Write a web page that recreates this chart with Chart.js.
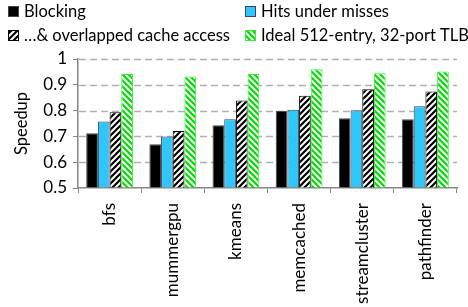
<!DOCTYPE html>
<html>
<head>
<meta charset="utf-8">
<script src="https://cdn.jsdelivr.net/npm/chart.js@4/dist/chart.umd.min.js"></script>
<style>
html,body{margin:0;padding:0;background:#fff;}
#wrap{position:relative;width:468px;height:307px;}
</style>
</head>
<body>
<div id="wrap"><canvas id="c" width="468" height="307"></canvas></div>
<script>
const categories = ["bfs","mummergpu","kmeans","memcached","streamcluster","pathfinder"];
const seriesNames = ["Blocking","Hits under misses","\u2026& overlapped cache access","Ideal 512-entry, 32-port TLB"];
const blocking = [0.712,0.670,0.743,0.799,0.770,0.766];
const hitsUnderMisses = [0.758,0.700,0.766,0.803,0.801,0.817];
const overlapped = [0.794,0.721,0.839,0.858,0.883,0.874];
const idealTLB = [0.942,0.932,0.942,0.960,0.945,0.952];
const yTicks = [0.5,0.6,0.7,0.8,0.9,1];

const FONT = "Lato";

function hatch(color, dir){
  const s = 6;
  const c = document.createElement('canvas');
  c.width = s; c.height = s;
  const g = c.getContext('2d');
  g.fillStyle = '#ffffff';
  g.fillRect(0,0,s,s);
  g.strokeStyle = color;
  g.lineWidth = 2.2;
  g.beginPath();
  if(dir === '/'){
    g.moveTo(-1, s+1); g.lineTo(s+1, -1);
    g.moveTo(-1, 1); g.lineTo(1, -1);
    g.moveTo(s-1, s+1); g.lineTo(s+1, s-1);
  } else {
    g.moveTo(-1, -1); g.lineTo(s+1, s+1);
    g.moveTo(s-1, -1); g.lineTo(s+1, 1);
    g.moveTo(-1, s-1); g.lineTo(1, s+1);
  }
  g.stroke();
  return document.getElementById('c').getContext('2d').createPattern(c,'repeat');
}

const blackHatch = hatch('#000000','/');
const greenHatch = hatch('#00dd00','\\');

const dashedGrid = {
  id:'dashedGrid',
  beforeDatasetsDraw(chart){
    const ctx = chart.ctx, y = chart.scales.y, a = chart.chartArea;
    ctx.save();
    ctx.strokeStyle = '#b0b0b0';
    ctx.lineWidth = 1.4;
    ctx.setLineDash([7,4]);
    y.ticks.forEach(t=>{
      if(t.value <= y.min) return;
      const py = Math.round(y.getPixelForValue(t.value)) + 0.5;
      ctx.beginPath();
      ctx.moveTo(a.left+1, py);
      ctx.lineTo(a.right, py);
      ctx.stroke();
    });
    ctx.restore();
  }
};

const legendPlugin = {
  id:'customLegend',
  afterDraw(chart){
    const ctx = chart.ctx;
    const pos = [[8,6],[245,6],[8,30],[245,30]];
    ctx.save();
    ctx.font = "16.5px " + FONT;
    ctx.textBaseline = 'alphabetic';
    chart.data.datasets.forEach((ds,i)=>{
      const [x,y] = pos[i];
      ctx.fillStyle = ds.backgroundColor;
      ctx.fillRect(x,y,11,11);
      ctx.strokeStyle = ds.borderColor;
      ctx.lineWidth = 1;
      ctx.strokeRect(x+0.5,y+0.5,10,10);
      ctx.fillStyle = '#000';
      ctx.fillText(ds.label, x+16, y+11);
    });
    ctx.restore();
  }
};

new Chart(document.getElementById('c'), {
  type:'bar',
  data:{
    labels: categories,
    datasets:[
      {label:seriesNames[0], data:blocking, backgroundColor:'#000000', borderColor:'#3a4556', borderWidth:1},
      {label:seriesNames[1], data:hitsUnderMisses, backgroundColor:'#2ec6fb', borderColor:'#3a4556', borderWidth:1},
      {label:seriesNames[2], data:overlapped, backgroundColor:blackHatch, borderColor:'#000000', borderWidth:1},
      {label:seriesNames[3], data:idealTLB, backgroundColor:greenHatch, borderColor:'#33ee33', borderWidth:1}
    ]
  },
  options:{
    responsive:false,
    animation:false,
    devicePixelRatio:1,
    layout:{padding:{top:59,right:11,left:0,bottom:0}},
    plugins:{legend:{display:false}, tooltip:{enabled:false}},
    datasets:{bar:{categoryPercentage:0.74, barPercentage:1.0, base:0.5}},
    scales:{
      x:{
        grid:{display:true, drawOnChartArea:false, offset:true, color:'#868686', tickLength:5},
        border:{display:true, color:'#868686', width:1.5},
        ticks:{font:{family:FONT,size:17}, color:'#000', minRotation:90, maxRotation:90, padding:10},
        afterFit(s){ s.height = 119; }
      },
      y:{
        min:0.5, max:1,
        afterBuildTicks(s){ s.ticks = yTicks.map(v=>({value:v})); },
        grid:{drawOnChartArea:false, tickLength:5, color:'#868686', drawTicks:true},
        border:{display:true, color:'#868686', width:1.5},
        ticks:{font:{family:FONT,size:17}, color:'#000', padding:6, callback:(v)=>String(v)},
        title:{display:true, text:'Speedup', font:{family:FONT,size:16.5}, color:'#000', padding:{top:12,bottom:0}},
        afterFit(s){ s.width = 78; }
      }
    }
  },
  plugins:[dashedGrid, legendPlugin]
});
</script>
</body>
</html>
